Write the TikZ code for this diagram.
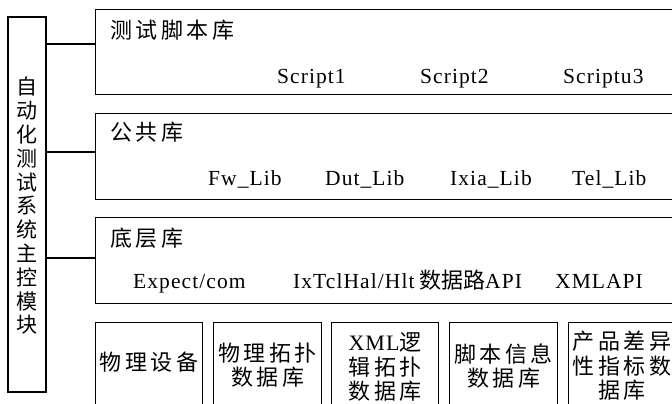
\documentclass[tikz,border=0pt]{standalone}
\usepackage{fontspec}
\setmainfont{Liberation Serif}
\newfontfamily\cjk{Noto Sans CJK SC}[LetterSpace=16]
\newfontfamily\cjkv{Noto Sans CJK SC}
\newfontfamily\lat{Liberation Serif}[LetterSpace=5]
\tikzset{
  box/.style={draw, line width=1.1pt, inner sep=0pt},
  conn/.style={line width=1.1pt},
  cntitle/.style={font=\cjk\fontsize{22}{24}\selectfont, inner sep=0pt, anchor=west},
  latt/.style={font=\lat\fontsize{21.5}{24}\selectfont, inner sep=0pt, anchor=base west},
  cellt/.style={font=\cjk\fontsize{22}{24.5}\selectfont, inner sep=0pt, align=center},
}
\begin{document}
\begin{tikzpicture}[x=1pt,y=-1pt]
\useasboundingbox (0,0) rectangle (672,404);
\clip (0,0) rectangle (672,404);
\fill[white] (0,0) rectangle (672,404);
% main vertical box
\node[box, minimum width=38pt, minimum height=375pt] (main) at (27,204.5) {};
\node[font=\cjkv\fontsize{21}{23.8}\selectfont, align=center, inner sep=0pt] (maint) at (27,206)
  {自\\动\\化\\测\\试\\系\\统\\主\\控\\模\\块};
% library boxes
\node[box, minimum width=595pt, minimum height=85pt, anchor=north west] (lib1) at (95,9) {};
\node[box, minimum width=595pt, minimum height=86pt, anchor=north west] (lib2) at (95,113) {};
\node[box, minimum width=595pt, minimum height=86pt, anchor=north west] (lib3) at (95,217) {};
% connectors
\draw[conn] (main.east |- 0,44) -- (lib1.west |- 0,44);
\draw[conn] (main.east |- 0,152) -- (lib2.west |- 0,152);
\draw[conn] (main.east |- 0,258) -- (lib3.west |- 0,258);
% titles
\node[cntitle] (t1) at (110,30) {测试脚本库};
\node[cntitle] (t2) at (110,132) {公共库};
\node[cntitle] (t3) at (110,238) {底层库};
% script row
\node[latt] (s1) at (277,83) {Script1};
\node[latt] (s2) at (420,83) {Script2};
\node[latt] (s3) at (563,83) {Scriptu3};
% lib row
\node[latt] (l1) at (208,185) {Fw\_Lib};
\node[latt] (l2) at (325,185) {Dut\_Lib};
\node[latt] (l3) at (450,185) {Ixia\_Lib};
\node[latt] (l4) at (572,185) {Tel\_Lib};
% bottom lib row
\node[latt] (b1) at (133,288) {Expect/com};
\node[latt] (b2) at (293,288) {IxTclHal/Hlt};
\node[latt] (b3) at (419,288) {{\cjkv\fontsize{22}{24}\selectfont 数据路}API};
\node[latt] (b4) at (555,288) {XML\kern1ptAPI};
% bottom database boxes
\node[box, minimum width=107pt, minimum height=100pt, anchor=north west] (d1) at (95,322) {};
\node[box, minimum width=108pt, minimum height=100pt, anchor=north west] (d2) at (213,322) {};
\node[box, minimum width=107pt, minimum height=100pt, anchor=north west] (d3) at (331,322) {};
\node[box, minimum width=108pt, minimum height=100pt, anchor=north west] (d4) at (449,322) {};
\node[box, minimum width=107pt, minimum height=100pt, anchor=north west] (d5) at (568,322) {};
\node[cellt] (d1t) at (d1.center |- 0,362) {物理设备};
\node[cellt] (d2t) at (d2.center |- 0,365) {物理拓扑\\数据库};
\node[cellt] (d3t) at (d3.center |- 0,367) {{\lat XML}逻\\辑拓扑\\数据库};
\node[cellt] (d4t) at (d4.center |- 0,366) {脚本信息\\数据库};
\node[cellt] (d5t) at (d5.center |- 0,366) {产品差异\\性指标数\\据库};
\end{tikzpicture}
\end{document}
